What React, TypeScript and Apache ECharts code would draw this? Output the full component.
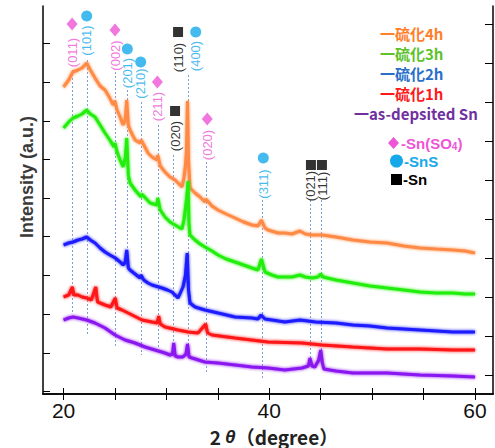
import React, { useEffect, useRef } from "react";
import * as echarts from "echarts";

// 2θ (degree), intensity (a.u.)
const curve4h: number[][] = [
  [20.0, 307], [20.5, 314], [20.9, 322], [21.4, 324], [21.8, 326], [22.25, 331], [22.6, 324],
  [23.06, 316], [23.55, 308], [24.03, 304], [24.5, 296], [24.81, 289], [25.0, 293], [25.2, 284],
  [25.5, 277], [25.78, 269], [26.0, 274], [26.14, 294], [26.3, 269], [26.46, 264], [26.95, 254],
  [27.43, 251], [27.55, 254], [28.21, 241], [28.6, 237], [29.09, 234], [29.16, 239], [29.4, 228],
  [29.86, 222], [30.35, 217], [30.84, 214], [31.13, 211], [31.52, 207], [31.7, 216], [31.85, 229],
  [31.95, 244], [32.05, 293], [32.15, 234], [32.29, 206], [32.78, 201], [33.27, 197], [33.75, 192],
  [33.83, 195], [34.43, 188], [35.01, 184], [35.8, 180], [36.67, 176], [37.5, 172], [38.32, 169],
  [38.9, 168], [39.24, 174], [39.58, 166], [39.87, 164], [40.84, 161], [41.52, 161], [42.21, 160],
  [42.98, 163], [43.5, 160], [44.15, 159], [45.12, 159], [46.48, 157], [48.13, 154], [49.79, 152],
  [51.44, 151], [53.09, 148], [54.65, 146], [56.2, 145], [57.85, 144], [59.02, 143], [60.0, 141],
];
const curve3h: number[][] = [
  [20.0, 266], [20.5, 272], [20.92, 276], [21.4, 278], [21.8, 280], [22.25, 284], [22.6, 280],
  [23.06, 277], [23.55, 269], [24.03, 261], [24.5, 254], [24.9, 247], [25.0, 251], [25.2, 242],
  [25.5, 234], [25.78, 227], [26.0, 236], [26.14, 256], [26.3, 219], [26.46, 211], [26.95, 204],
  [27.53, 197], [27.6, 200], [28.41, 191], [29.09, 189], [29.16, 196], [29.4, 184], [29.86, 177],
  [30.35, 172], [30.84, 169], [31.32, 166], [31.52, 165], [31.7, 174], [31.85, 186], [32.0, 199],
  [32.1, 213], [32.2, 169], [32.29, 159], [32.78, 154], [33.27, 150], [33.75, 147], [34.43, 143],
  [35.01, 139], [35.8, 135], [36.67, 132], [37.5, 129], [38.32, 126], [38.9, 124], [39.24, 135],
  [39.58, 122], [40.26, 119], [40.84, 117], [41.52, 117], [42.21, 117], [42.98, 119], [43.5, 117],
  [44.15, 116], [44.73, 117], [45.0, 120], [45.22, 117], [46.48, 114], [48.13, 111], [49.79, 108],
  [51.44, 106], [53.09, 104], [54.65, 102], [56.2, 101], [57.85, 101], [59.02, 100], [60.0, 100],
];
const curve2h: number[][] = [
  [20.0, 149], [20.5, 151], [20.92, 152], [21.4, 154], [21.8, 155], [22.25, 157], [22.6, 154],
  [23.06, 151], [23.55, 146], [24.03, 142], [24.5, 139], [25.03, 136], [25.5, 132], [25.78, 129],
  [26.0, 132], [26.14, 144], [26.3, 126], [26.46, 124], [26.95, 120], [27.43, 116], [27.53, 119],
  [27.8, 114], [28.21, 111], [28.6, 109], [29.57, 106], [30.1, 104], [30.54, 102], [31.13, 96],
  [31.61, 107], [31.85, 119], [32.02, 141], [32.15, 104], [32.29, 91], [32.78, 87], [33.75, 84],
  [35.01, 81], [36.67, 77], [38.32, 76], [38.9, 75], [39.2, 79], [39.58, 75], [40.26, 74],
  [41.52, 72], [42.98, 74], [44.5, 72], [46.48, 71], [48.13, 69], [49.79, 68], [51.44, 66],
  [54.65, 64], [57.85, 62], [60.0, 62],
];
const curve1h: number[][] = [
  [20.0, 97], [20.5, 99], [20.86, 107], [21.0, 99], [21.41, 99], [21.8, 97], [22.25, 96],
  [22.7, 94], [23.13, 107], [23.3, 92], [24.03, 89], [24.6, 87], [25.03, 96], [25.2, 86],
  [25.69, 84], [26.66, 79], [27.63, 74], [28.6, 72], [29.1, 71], [29.25, 78], [29.4, 70],
  [29.86, 67], [31.13, 64], [32.1, 62], [33.07, 61], [33.82, 70], [34.0, 61], [34.43, 59],
  [36.67, 56], [39.87, 52], [43.18, 51], [45.12, 49], [48.13, 47], [51.44, 45], [54.65, 45],
  [57.85, 44], [60.0, 44],
];
const curveSn: number[][] = [
  [20.0, 74], [20.5, 76], [20.92, 77], [21.4, 76], [22.25, 74], [23.06, 71], [24.03, 66],
  [25.0, 59], [25.98, 54], [26.95, 51], [27.92, 47], [28.89, 44], [29.86, 41], [30.35, 39],
  [30.6, 40], [30.71, 51], [30.85, 38], [31.13, 37], [31.61, 37], [31.9, 40], [32.05, 50],
  [32.2, 37], [32.49, 36], [33.75, 32], [35.01, 31], [36.67, 29], [38.32, 27], [39.87, 26],
  [41.52, 24], [43.18, 26], [43.8, 28], [43.96, 36], [44.15, 28], [44.44, 27], [44.8, 34],
  [45.0, 44], [45.15, 32], [45.3, 25], [46.48, 23], [48.13, 21], [51.44, 21], [54.65, 19],
  [57.85, 18], [60.0, 17],
];

// reference lines: 2θ, top, bottom
const refLines: number[][] = [
  [20.89, 324, 81], [22.27, 334, 59], [25.0, 322, 46], [26.2, 304, 124], [27.55, 292, 39],
  [29.2, 269, 47], [30.7, 239, 41], [32.1, 319, 49], [33.83, 232, 21], [39.35, 194, 16],
  [44.0, 194, 31], [45.1, 194, 39],
];

const so4Markers: number[][] = [[20.83, 370], [25.0, 364], [29.12, 312], [33.97, 275]];
const snsMarkers: number[][] = [[22.25, 378], [26.2, 345], [27.5, 332], [32.85, 362], [39.42, 236]];
const snMarkers: number[][] = [[31.13, 362], [30.84, 283], [44.05, 229], [45.12, 229]];

const so4Labels: (number | string)[][] = [[20.9, 341.5, "(011)"], [25.0, 338.5, "(002)"], [29.12, 287.5, "(211)"], [33.97, 249, "(020)"]];
const snsLabels: (number | string)[][] = [[22.25, 353.5, "(101)"], [26.2, 321, "(201)"], [27.5, 310.5, "(210)"], [32.85, 338, "(400)"], [39.42, 210, "(311)"]];
const snLabels: (number | string)[][] = [[31.16, 336.5, "(110)"], [30.84, 258, "(020)"], [44.0, 208, "(021)"], [45.2, 208, "(111)"]];

const xTicks = [20, 25, 30, 35, 40, 45, 50, 55, 60];
const xTickLabels = [20, 40, 60];
const leftTicks = [3, 41, 80, 119, 158, 196, 235, 273, 312, 351];
const rightTicks = [19, 58, 97, 136, 175, 214, 253, 292, 331, 370];

const seriesNames = ["一硫化4h", "一硫化3h", "一硫化2h", "一硫化1h", "一as-depsited Sn"];
const curveColors = ["#ff8a45", "#22ee11", "#1a1aff", "#ff1414", "#8a14f0"];
const legendColors = ["#ff7f2a", "#5ec22a", "#2a6fc9", "#ff1a1a", "#7030a0"];

const PINK = "#ee55d6";
const BLUE = "#16a9ea";
const SANS = "'Liberation Sans', Arial, sans-serif";
const CJK = "'Noto Sans CJK JP', 'Noto Sans', sans-serif";

export default function App() {
  const ref = useRef<HTMLDivElement>(null);
  useEffect(() => {
    if (!ref.current) return;
    const chart = echarts.init(ref.current, null, { renderer: "svg" });
    const curves = [curve4h, curve3h, curve2h, curve1h, curveSn];
    const labelSeries = (data: (number | string)[][], color: string) => ({
      type: "scatter",
      data,
      symbolSize: 1,
      itemStyle: { color: "rgba(0,0,0,0)" },
      silent: true,
      z: 5,
      label: {
        show: true,
        position: "inside",
        rotate: 90,
        formatter: (p: any) => p.data[2],
        color,
        fontSize: 13,
        fontFamily: SANS,
      },
    });
    const legendItems: any[] = seriesNames.map((n, i) => ({
      type: "text",
      x: i < 4 ? 380 : 354,
      y: 33 + i * 20,
      style: {
        text: n,
        fill: legendColors[i],
        fontSize: 15,
        fontWeight: "bold",
        fontFamily: CJK,
        lineHeight: 17,
        verticalAlign: "middle",
      },
    }));
    const option: any = {
      animation: false,
      grid: { left: 43, right: 2, top: 6, bottom: 54 },
      xAxis: [
        {
          type: "value", min: 18, max: 61.75, position: "bottom",
          axisLine: { lineStyle: { color: "#000", width: 1.5 } },
          axisTick: { inside: true, length: 6, customValues: xTicks, lineStyle: { color: "#000", width: 1 } },
          axisLabel: { customValues: xTickLabels, fontSize: 21, color: "#111", margin: 6, fontFamily: SANS },
          splitLine: { show: false },
        },
        {
          type: "value", min: 18, max: 61.75, position: "top",
          axisLine: { lineStyle: { color: "#000", width: 1.5 } },
          axisTick: { inside: true, length: 6, customValues: xTicks, lineStyle: { color: "#000", width: 1 } },
          axisLabel: { show: false },
          splitLine: { show: false },
        },
      ],
      yAxis: [
        {
          type: "value", min: 0, max: 388, position: "left",
          axisLine: { show: true, lineStyle: { color: "#000", width: 1.5 } },
          axisTick: { show: true, inside: true, length: 7, customValues: leftTicks, lineStyle: { color: "#000", width: 1 } },
          axisLabel: { show: false },
          splitLine: { show: false },
        },
        {
          type: "value", min: 0, max: 388, position: "right",
          axisLine: { show: true, lineStyle: { color: "#000", width: 1.5 } },
          axisTick: { show: true, inside: true, length: 8, customValues: rightTicks, lineStyle: { color: "#000", width: 1 } },
          axisLabel: { show: false },
          splitLine: { show: false },
        },
      ],
      series: [
        {
          type: "lines",
          coordinateSystem: "cartesian2d",
          silent: true,
          z: 1,
          lineStyle: { color: "#7f9fdc", width: 1, type: [2, 2], opacity: 1 },
          data: refLines.map((r) => ({ coords: [[r[0], r[1]], [r[0], r[2]]] })),
        },
        ...curves.map((c, i) => ({
          type: "line",
          name: seriesNames[i],
          data: c,
          showSymbol: false,
          symbol: "none",
          z: 3,
          lineStyle: { color: curveColors[i], width: 3, shadowColor: curveColors[i], shadowBlur: 3 },
          itemStyle: { color: curveColors[i] },
        })),
        { type: "scatter", data: so4Markers, symbol: "diamond", symbolSize: [11, 13], itemStyle: { color: PINK }, silent: true, z: 5 },
        { type: "scatter", data: snsMarkers, symbol: "circle", symbolSize: 11, itemStyle: { color: BLUE }, silent: true, z: 5 },
        { type: "scatter", data: snMarkers, symbol: "rect", symbolSize: 10, itemStyle: { color: "#000" }, silent: true, z: 5 },
        labelSeries(so4Labels, PINK),
        labelSeries(snsLabels, BLUE),
        labelSeries(snLabels, "#000"),
      ],
      graphic: [
        ...legendItems,
        { type: "polygon", shape: { points: [[388, 143], [393.5, 137], [399, 143], [393.5, 149]] }, style: { fill: PINK } },
        { type: "circle", shape: { cx: 396.5, cy: 161, r: 6.5 }, style: { fill: BLUE } },
        { type: "rect", shape: { x: 391, y: 174, width: 11, height: 11 }, style: { fill: "#000" } },
        {
          type: "text", x: 401, y: 143,
          style: {
            text: "{a|-Sn(SO}{s|4}{a|)}",
            verticalAlign: "middle",
            rich: {
              a: { fill: PINK, fontSize: 15, fontFamily: SANS, fontWeight: "bold", lineHeight: 16 },
              s: { fill: PINK, fontSize: 10, fontFamily: SANS, fontWeight: "bold", lineHeight: 16, verticalAlign: "bottom", padding: [4, 0, 0, 0] },
            },
          },
        },
        {
          type: "text", x: 404, y: 161,
          style: { text: "-SnS", fill: BLUE, fontSize: 15, fontWeight: "bold", fontFamily: SANS, lineHeight: 16, verticalAlign: "middle" },
        },
        {
          type: "text", x: 403, y: 179.5,
          style: { text: "-Sn", fill: "#000", fontSize: 15, fontWeight: "bold", fontFamily: SANS, lineHeight: 16, verticalAlign: "middle" },
        },
        {
          type: "text", x: 27, y: 177, rotation: Math.PI / 2,
          style: { text: "Intensity (a.u.)", fill: "#3a3a3a", fontSize: 18, fontWeight: "bold", fontFamily: SANS, align: "center", verticalAlign: "middle" },
        },
        {
          type: "text", x: 274, y: 436,
          style: {
            text: "{n|2}{i|θ}{n|（degree）}",
            align: "center",
            verticalAlign: "middle",
            rich: {
              n: { fill: "#222", fontSize: 19, fontFamily: CJK, fontWeight: "bold", lineHeight: 20 },
              i: { fill: "#222", fontSize: 19, fontFamily: SANS, fontStyle: "italic", fontWeight: "bold", lineHeight: 20, padding: [0, 0, 0, 4] },
            },
          },
        },
      ],
    };
    chart.setOption(option);
    return () => chart.dispose();
  }, []);
  return (
    <div
      ref={ref}
      style={{ position: "fixed", left: 0, top: 0, width: 495, height: 448, background: "#fff" }}
    />
  );
}
